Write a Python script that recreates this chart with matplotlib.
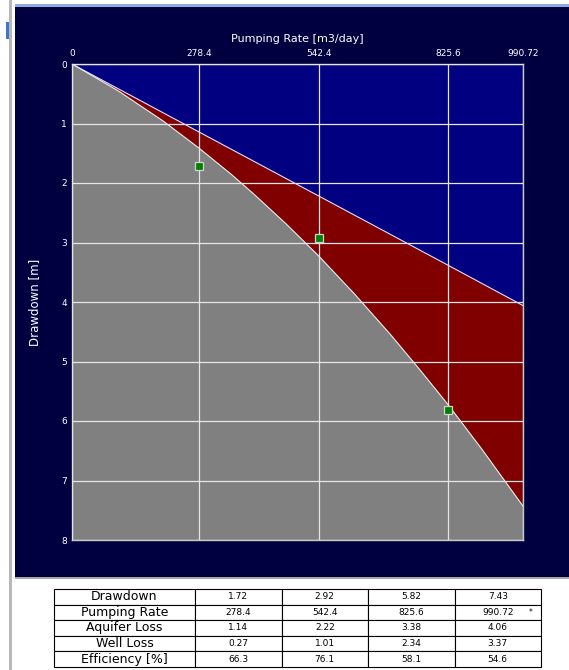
import matplotlib
matplotlib.use('Agg')
import matplotlib.pyplot as plt
from matplotlib.patches import Rectangle

# ---------------- data ----------------
pumping_rate = [278.4, 542.4, 825.6, 990.72]          # m3/day
drawdown_obs = [1.72, 2.92, 5.82, 7.43]                # m
aquifer_loss = [1.14, 2.22, 3.38, 4.06]                # m
well_loss = [0.27, 1.01, 2.34, 3.37]                   # m
efficiency = [66.3, 76.1, 58.1, 54.6]                  # %
n_observed = 3                                         # last column is predicted (*)

# total drawdown curve (boundary grey / red)
curve_q = [0, 100, 200, 278.4, 350, 400, 470, 542.4, 620, 700, 760, 825.6, 900, 990.72]
curve_s = [0, 0.444, 0.957, 1.41, 1.855, 2.19, 2.685, 3.23, 3.86, 4.55, 5.10, 5.72, 6.47, 7.43]

x_ticks = [0, 278.4, 542.4, 825.6, 990.72]
x_tick_labels = ["0", "278.4", "542.4", "825.6", "990.72"]
y_ticks = [0, 1, 2, 3, 4, 5, 6, 7, 8]

row_labels = ["Drawdown", "Pumping Rate", "Aquifer Loss", "Well Loss", "Efficiency [%]"]
row_values = [
    ["1.72", "2.92", "5.82", "7.43"],
    ["278.4", "542.4", "825.6", "990.72"],
    ["1.14", "2.22", "3.38", "4.06"],
    ["0.27", "1.01", "2.34", "3.37"],
    ["66.3", "76.1", "58.1", "54.6"],
]

# ---------------- figure ----------------
W, H = 569, 670
fig = plt.figure(figsize=(W / 100, H / 100), dpi=100)
fig.patch.set_facecolor('white')


def frect(x0, y0, x1, y1, color, z=0):
    """rectangle given by pixel coordinates from the top-left corner"""
    r = Rectangle((x0 / W, 1 - y1 / H), (x1 - x0) / W, (y1 - y0) / H,
                  transform=fig.transFigure, facecolor=color, edgecolor='none', zorder=z)
    fig.add_artist(r)


# window decorations
frect(9, 0, 12, H, '#b8b8b8')
frect(6, 22, 9, 39, '#3c74d4')
frect(15, 4, W, 7, '#8eaadf')
frect(15, 7, W, 577, '#000040')
frect(15, 577, W, 579, '#a8a8a8')

# ---------------- chart ----------------
pl, pt, pr, pb = 72, 64, 523, 540
ax = fig.add_axes([pl / W, 1 - pb / H, (pr - pl) / W, (pb - pt) / H])
ax.set_xlim(0, pumping_rate[-1])
ax.set_ylim(8, 0)

q_line = [0] + pumping_rate
aq_line = [0] + aquifer_loss

# blue: above aquifer-loss line
ax.fill([0, pumping_rate[-1]] + q_line[::-1], [0, 0] + aq_line[::-1],
        color='#000080', zorder=1, lw=0)
# red: between aquifer-loss line and total drawdown curve
ax.fill(q_line + curve_q[::-1], aq_line + curve_s[::-1],
        color='#800000', zorder=1, lw=0)
# grey: below total drawdown curve
ax.fill(curve_q + [pumping_rate[-1], 0], curve_s + [8, 8],
        color='#808080', zorder=1, lw=0)

ax.plot(q_line, aq_line, color='#d8d8ff', lw=0.8, zorder=3)
ax.plot(curve_q, curve_s, color='#e8e8e8', lw=0.8, zorder=3)

ax.plot(pumping_rate[:n_observed], drawdown_obs[:n_observed], ls='none', marker='s',
        markersize=5.5, markerfacecolor='#008000', markeredgecolor='#d0d0d0',
        markeredgewidth=0.9, zorder=4)

ax.set_xticks(x_ticks)
ax.set_xticklabels(x_tick_labels)
ax.set_yticks(y_ticks)
ax.xaxis.tick_top()
ax.tick_params(axis='x', length=0, colors='white', labelsize=6.5, pad=4.5)
ax.tick_params(axis='y', length=0, colors='white', labelsize=6.5, pad=3.5)
ax.set_axisbelow(False)
ax.grid(True, color='#e6e6e6', lw=0.9)
for sp in ax.spines.values():
    sp.set_color('#c8c8c8')
    sp.set_linewidth(1.0)

fig.text(297 / W, 1 - 39 / H, "Pumping Rate [m3/day]", color='white',
         fontsize=8, ha='center', va='center')
fig.text(35 / W, 1 - 302 / H, "Drawdown [m]", color='white', fontsize=8.5,
         ha='center', va='center', rotation=90)

# ---------------- table ----------------
tl, tt, tr, tb = 54, 589, 541, 667
tax = fig.add_axes([tl / W, 1 - tb / H, (tr - tl) / W, (tb - tt) / H])
tax.axis('off')
first_w = 141
other_w = (tr - tl - first_w) / 4
cell_text = [[lab] + vals for lab, vals in zip(row_labels, row_values)]
tbl = tax.table(cellText=cell_text,
                colWidths=[first_w / (tr - tl)] + [other_w / (tr - tl)] * 4,
                cellLoc='center', bbox=[0, 0, 1, 1])
tbl.auto_set_font_size(False)
for (r, c), cell in tbl.get_celld().items():
    cell.set_edgecolor('black')
    cell.set_linewidth(0.8)
    cell.set_facecolor('white')
    cell.get_text().set_fontsize(9 if c == 0 else 6.5)
    cell.get_text().set_color('black')

fig.text(531 / W, 1 - 613 / H, "*", fontsize=5.5, ha='center', va='center', color='black')

fig.savefig('out.png', dpi=100, facecolor='white')
